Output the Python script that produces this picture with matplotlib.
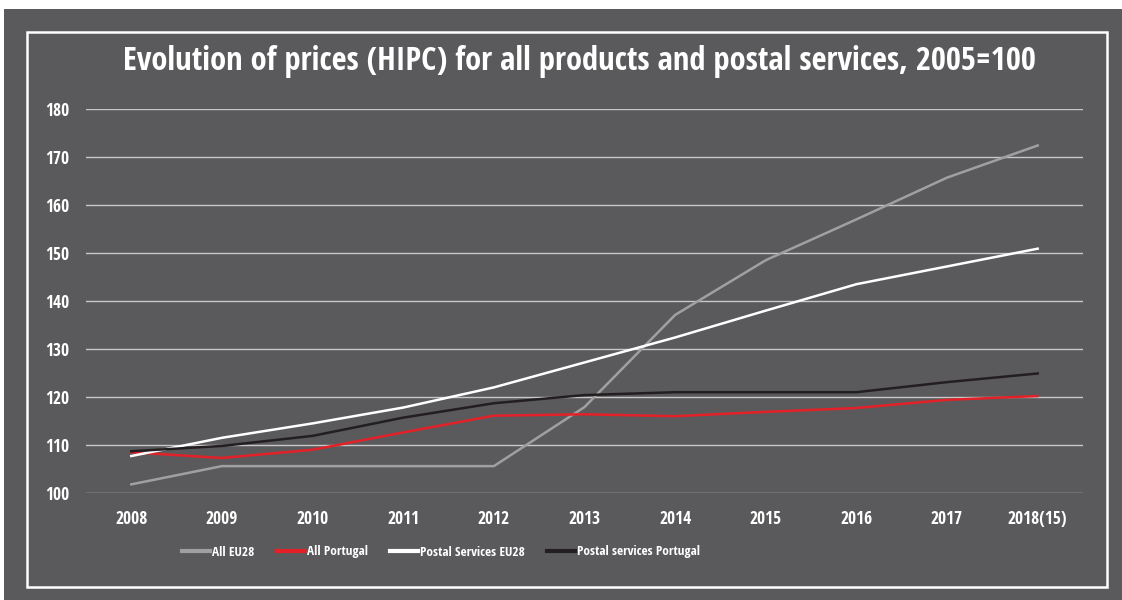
import matplotlib
matplotlib.use("Agg")
import matplotlib.pyplot as plt
from matplotlib.patches import Rectangle
from matplotlib.lines import Line2D

# Datos
years = ["2008", "2009", "2010", "2011", "2012", "2013", "2014", "2015", "2016", "2017", "2018(15)"]
all_eu28 = [101.8, 105.6, 105.6, 105.6, 105.6, 117.9, 137.1, 148.5, 157.0, 165.7, 172.4]
all_portugal = [108.5, 107.3, 109.0, 112.6, 116.1, 116.4, 116.0, 116.9, 117.7, 119.4, 120.2]
postal_eu28 = [107.7, 111.5, 114.5, 117.8, 122.0, 127.2, 132.4, 138.0, 143.5, 147.2, 150.9]
postal_portugal = [108.7, 109.8, 111.9, 115.7, 118.7, 120.4, 121.0, 121.0, 121.0, 123.1, 124.9]

series_names = ["All EU28", "All Portugal", "Postal Services EU28", "Postal services Portugal"]
series_colors = ["#a0a0a0", "#e42128", "#ffffff", "#231f20"]
series_widths = [1.8, 1.8, 1.8, 1.8]

bg = "#5a5a5c"
grid_col = "#c8c8c8"
plt.rcParams["font.family"] = ["Open Sans Condensed", "DejaVu Sans"]
plt.rcParams["font.weight"] = "bold"

fig = plt.figure(figsize=(11.22, 6.0), dpi=100)
fig.patch.set_facecolor("white")

# fondo gris y marco blanco
fig.patches.append(Rectangle((4 / 1122, 0), 1 - 4 / 1122, 1 - 9 / 600,
                             transform=fig.transFigure, facecolor=bg, edgecolor="none", zorder=0))
fig.patches.append(Rectangle((27 / 1122, 1 - 587 / 600), (1107 - 27) / 1122, (587 - 32) / 600,
                             transform=fig.transFigure, facecolor="none", edgecolor="white",
                             linewidth=1.8, zorder=1))

ax = fig.add_axes([86 / 1122, 1 - 493 / 600, (1083 - 86) / 1122, (493 - 109) / 600])
ax.set_facecolor("none")
ax.set_zorder(2)

x = list(range(len(years)))
data = [all_eu28, all_portugal, postal_eu28, postal_portugal]
for vals, col, lw in zip(data, series_colors, series_widths):
    ax.plot(x, vals, color=col, linewidth=lw, zorder=3)

ax.set_xlim(-0.5, len(years) - 0.5)
ax.set_ylim(100, 180)
ax.set_yticks(range(100, 181, 10))
ax.set_xticks(x)
ax.set_xticklabels(years)
ax.grid(axis="y", color=grid_col, linewidth=1.0, zorder=1)
ax.set_axisbelow(True)
for s in ax.spines.values():
    s.set_visible(False)
ax.tick_params(axis="both", length=0, colors="white", labelsize=12.5)
ax.tick_params(axis="y", pad=12)
ax.tick_params(axis="x", pad=12)
for lab in ax.get_xticklabels() + ax.get_yticklabels():
    lab.set_fontweight("bold")

fig.text(579 / 1122, 1 - 62 / 600,
         "Evolution of prices (HIPC) for all products and postal services, 2005=100",
         ha="center", va="center", color="white", fontsize=23.5, fontweight="bold", zorder=3)

handles = [Line2D([0], [0], color=c, linewidth=3) for c in series_colors]
leg = fig.legend(handles, series_names, loc="center", bbox_to_anchor=(441 / 1122, 1 - 552 / 600),
                 ncol=4, frameon=False, handlelength=2.1, handletextpad=0.15, columnspacing=1.7,
                 prop={"size": 9.5, "weight": "bold"})
leg.set_zorder(3)
for t in leg.get_texts():
    t.set_color("white")

fig.savefig("out.png", dpi=100, facecolor=fig.get_facecolor())
